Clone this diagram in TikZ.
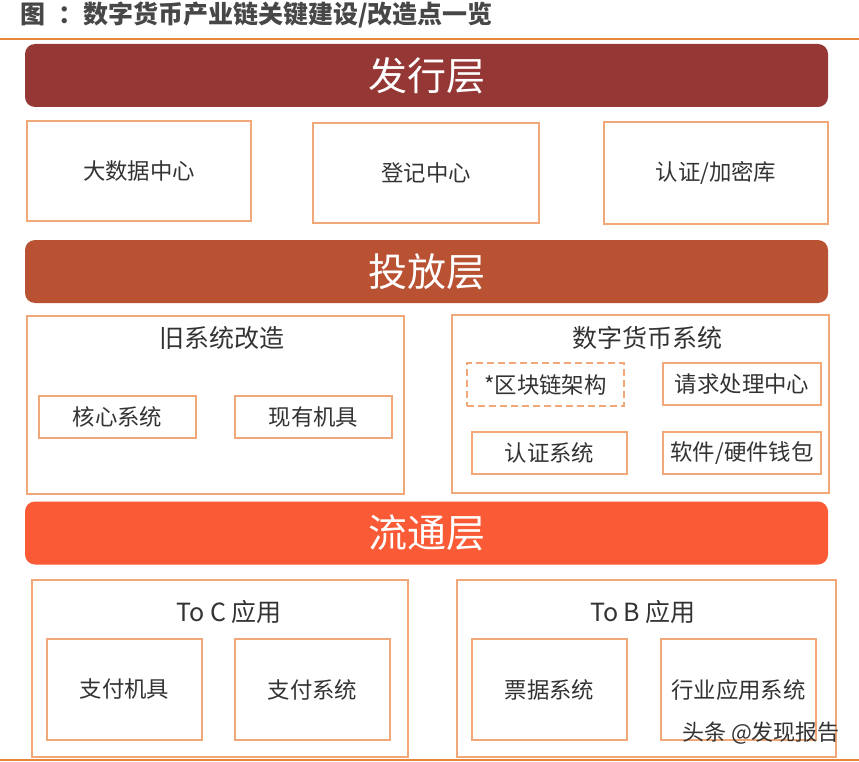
\documentclass[tikz,border=0pt]{standalone}
\usepackage{fontspec}
\usepackage{xcolor}
\setmainfont{Noto Sans CJK SC}
\definecolor{rule}{HTML}{E8873A}
\definecolor{edge}{HTML}{F0A878}
\definecolor{issuered}{HTML}{953735}
\definecolor{launchred}{HTML}{B85233}
\definecolor{circred}{HTML}{FA5A35}
\definecolor{ink}{HTML}{333333}
\tikzset{
  layer/.style={rounded corners=10pt, fill=#1, text=white, inner sep=0pt,
    minimum width=803pt, minimum height=63pt, font=\fontsize{39}{42}\selectfont},
  box/.style={draw=edge, line width=1.3pt, fill=white, inner sep=0pt, text=ink,
    font=\fontsize{22.4}{25}\selectfont},
  boxtitle/.style={text=ink, font=\fontsize{25}{28}\selectfont}
}
\begin{document}
\begin{tikzpicture}[x=1pt, y=-1pt]
  \useasboundingbox (0,0) rectangle (859,762);
  % title and rules
  \node[anchor=west, text=ink!90, font=\fontsize{25}{28}\selectfont\bfseries] (title) at (17,15)
    {图\hspace{0.5em}：数字货币产业链关键建设/改造点一览};
  \coordinate (tl) at (0,39);  \coordinate (tr) at (859,39);
  \coordinate (bl) at (0,760); \coordinate (br) at (859,760);
  \draw[rule, line width=2pt] (tl) -- (tr);
  \draw[rule, line width=2pt] (bl) -- (br);
  % layers
  \node[layer=issuered]  (issue)  at (426.5,75.5)  {发行层};
  \node[layer=launchred] (launch) at (426.5,271.5) {投放层};
  \node[layer=circred]   (circ)   at (426.5,533)   {流通层};
  % issuing layer
  \node[box, minimum width=224pt, minimum height=100pt] (bigdata)  at (139,171) {大数据中心};
  \node[box, minimum width=226pt, minimum height=100pt] (registry) at (426,173) {登记中心};
  \node[box, minimum width=224pt, minimum height=102pt] (authdb)   at (716,173) {认证/加密库};
  % launch layer
  \node[box, minimum width=377pt, minimum height=178pt] (legacy) at (215.5,405) {};
  \node[boxtitle] (legacytitle) at (222,338) {旧系统改造};
  \node[box, minimum width=157pt, minimum height=42pt] (core)      at (117.5,417) {核心系统};
  \node[box, minimum width=157pt, minimum height=42pt] (terminals) at (313.5,417) {现有机具};
  \node[box, minimum width=377pt, minimum height=178pt] (dcsys) at (640.5,404) {};
  \node[boxtitle] (dcsystitle) at (647,338) {数字货币系统};
  \node[box, dash pattern=on 7pt off 4pt, minimum width=157pt, minimum height=43pt] (chain) at (545.5,384.5) {*区块链架构};
  \node[box, minimum width=158pt, minimum height=42pt] (request) at (742,384) {请求处理中心};
  \node[box, minimum width=155pt, minimum height=42pt] (authsys) at (549.5,453) {认证系统};
  \node[box, minimum width=158pt, minimum height=42pt] (wallet)  at (742,453) {软件/硬件钱包};
  % circulation layer
  \node[box, minimum width=376pt, minimum height=177pt] (toc) at (220,668.5) {};
  \node[boxtitle] (toctitle) at (229,612) {To C 应用};
  \node[box, minimum width=155pt, minimum height=101pt] (paydev) at (124.5,689.5) {支付机具};
  \node[box, minimum width=155pt, minimum height=101pt] (paysys) at (312.5,689.5) {支付系统};
  \node[box, minimum width=379pt, minimum height=177pt] (tob) at (646.5,668.5) {};
  \node[boxtitle] (tobtitle) at (643,612) {To B 应用};
  \node[box, minimum width=155pt, minimum height=101pt] (bill)     at (549.5,689.5) {票据系统};
  \node[box, minimum width=155pt, minimum height=101pt] (industry) at (738.5,689.5) {行业应用系统};
  % watermark
  \node[text=ink, font=\fontsize{22}{25}\selectfont] (mark) at (761,733) {头条 @发现报告};
\end{tikzpicture}
\end{document}
